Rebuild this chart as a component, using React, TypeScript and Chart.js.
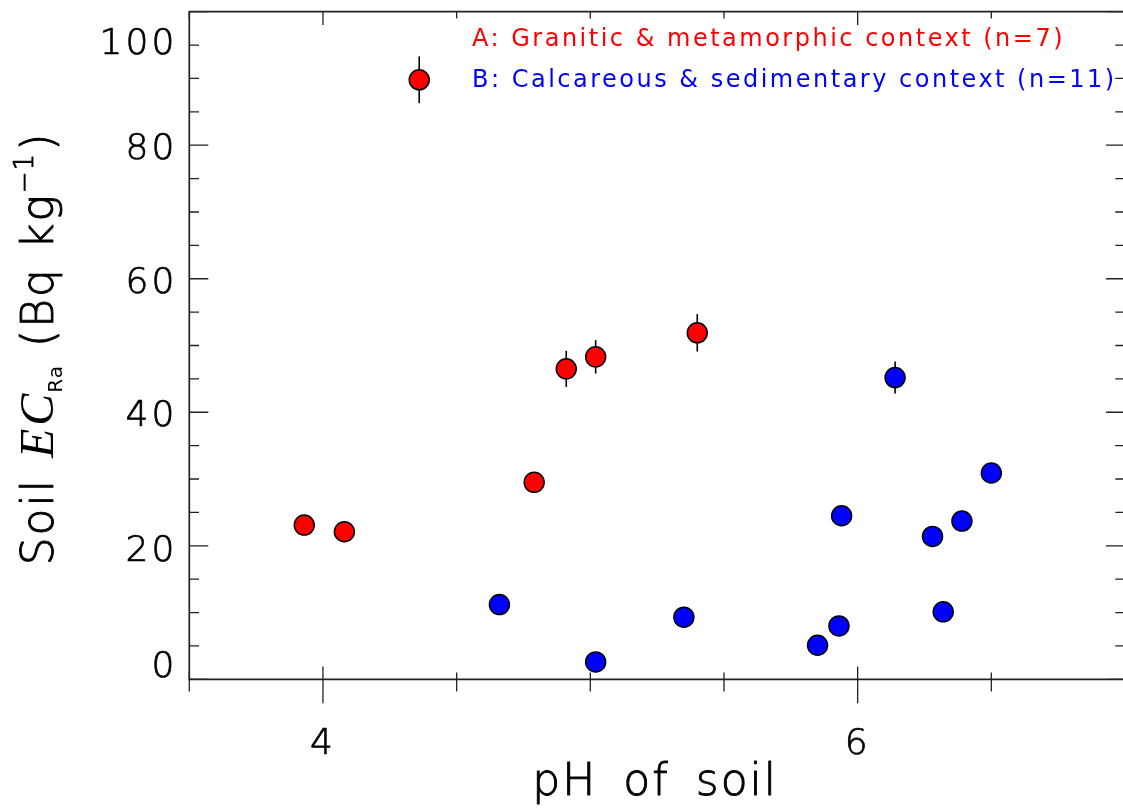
import React, { useEffect, useRef } from 'react';
import { Chart, registerables } from 'chart.js';
Chart.register(...registerables);

// ---- data ----
const phA = [3.93, 4.08, 4.36, 4.79, 4.91, 5.02, 5.40];
const ecA = [23.1, 22.1, 89.8, 29.5, 46.5, 48.3, 51.9];
const errA = [0, 0, 3.5, 0, 2.7, 2.5, 2.8];

const phB = [4.66, 5.02, 5.35, 5.85, 5.93, 5.94, 6.14, 6.28, 6.32, 6.39, 6.50];
const ecB = [11.2, 2.6, 9.3, 5.1, 8.0, 24.5, 45.2, 21.4, 10.1, 23.7, 30.9];
const errB = [0, 0, 0, 0, 0, 0, 2.4, 0, 0, 0, 0];

const legendA = 'A: Granitic & metamorphic context (n=7)';
const legendB = 'B: Calcareous & sedimentary context (n=11)';
const xTitle = 'pH of soil';

const xMin = 3.5;
const xMax = 7.0;
const yMin = 0;
const yMax = 100;
const xTickValues = [3.5, 4, 4.5, 5, 5.5, 6, 6.5, 7];
const xMajorTicks = [4, 6];
const xTickLabels = ['4', '6'];
const yTickValues = [0, 5, 10, 15, 20, 25, 30, 35, 40, 45, 50, 55, 60, 65, 70, 75, 80, 85, 90, 95, 100];
const yMajorTicks = [0, 20, 40, 60, 80, 100];
const yTickLabels = ['0', '20', '40', '60', '80', '100'];
const yTickLabelAt = [1.8, 19.1, 39.3, 59.2, 79.3, 95.1];

const SANS = '"DejaVu Sans", sans-serif';
const SERIF = '"Liberation Serif", "DejaVu Serif", serif';
const W = '200';

function draw(ctx: any, s: string, x: number, y: number, sw: number) {
  ctx.fillText(s, x, y);
  if (sw > 0) {
    ctx.lineWidth = sw;
    ctx.strokeStyle = ctx.fillStyle;
    ctx.lineJoin = 'round';
    ctx.strokeText(s, x, y);
  }
}

const decorPlugin = {
  id: 'decor',
  beforeDatasetsDraw(chart: any) {
    const ctx = chart.ctx;
    const xs = chart.scales.x;
    const ys = chart.scales.y;
    ctx.save();
    ctx.strokeStyle = '#000';
    ctx.lineWidth = 1.6;
    const bars = (px: number[], py: number[], pe: number[]) => {
      px.forEach((v, i) => {
        if (!pe[i]) return;
        const X = xs.getPixelForValue(v);
        ctx.beginPath();
        ctx.moveTo(X, ys.getPixelForValue(py[i] - pe[i]));
        ctx.lineTo(X, ys.getPixelForValue(py[i] + pe[i]));
        ctx.stroke();
      });
    };
    bars(phA, ecA, errA);
    bars(phB, ecB, errB);
    ctx.restore();
  },
  afterDraw(chart: any) {
    const ctx = chart.ctx;
    const xs = chart.scales.x;
    const ys = chart.scales.y;
    const { left, right, top, bottom } = chart.chartArea;
    ctx.save();
    // frame
    ctx.strokeStyle = '#222';
    ctx.lineWidth = 1.7;
    ctx.beginPath();
    ctx.moveTo(left, top);
    ctx.lineTo(right, top);
    ctx.lineTo(right, bottom);
    ctx.lineTo(left, bottom);
    ctx.closePath();
    ctx.stroke();
    // ticks
    ctx.lineWidth = 1.3;
    ctx.beginPath();
    xTickValues.forEach((v) => {
      const X = xs.getPixelForValue(v);
      const major = xMajorTicks.includes(v);
      ctx.moveTo(X, bottom - (major ? 12.7 : 6.7));
      ctx.lineTo(X, bottom + (major ? 24 : 12.3));
      ctx.moveTo(X, top);
      ctx.lineTo(X, top + (major ? 13.3 : 6.7));
    });
    yTickValues.forEach((v) => {
      const Y = ys.getPixelForValue(v);
      const major = yMajorTicks.includes(v);
      ctx.moveTo(left, Y);
      ctx.lineTo(left + (major ? 19 : 9.7), Y);
      ctx.moveTo(right, Y);
      ctx.lineTo(right - (major ? 19 : 9.7), Y);
    });
    ctx.stroke();

    // tick labels
    ctx.fillStyle = '#000';
    ctx.font = `${W} 36px ${SANS}`;
    ctx.letterSpacing = '3px';
    ctx.textAlign = 'right';
    ctx.textBaseline = 'middle';
    yTickLabels.forEach((s, i) => {
      draw(ctx, s, left - 12, ys.getPixelForValue(yTickLabelAt[i]), 0.7);
    });
    ctx.textAlign = 'center';
    ctx.textBaseline = 'alphabetic';
    xTickLabels.forEach((s, i) => {
      draw(ctx, s, xs.getPixelForValue(xMajorTicks[i]), bottom + 75, 0.7);
    });

    // x title
    ctx.font = `${W} 44px ${SANS}`;
    ctx.letterSpacing = '2px';
    ctx.wordSpacing = '10px';
    ctx.textAlign = 'center';
    draw(ctx, xTitle, (left + right) / 2 - 2, bottom + 116, 0.9);

    // y title (rotated, runs)
    const runs = [
      { t: 'Soil', f: `${W} 44px ${SANS}`, ls: 2, dy: 0, gap: 20, sw: 0.9 },
      { t: 'EC', f: `italic 48px ${SERIF}`, ls: 3, dy: 0, gap: -2, sw: 0 },
      { t: 'Ra', f: `20px ${SANS}`, ls: 1, dy: 9, gap: 18, sw: 0 },
      { t: '(Bq', f: `${W} 44px ${SANS}`, ls: 2, dy: 0, gap: 18, sw: 0.9 },
      { t: 'kg', f: `${W} 44px ${SANS}`, ls: 2, dy: 0, gap: 0, sw: 0.9 },
      { t: '\u22121', f: `${W} 26px ${SANS}`, ls: 1, dy: -20, gap: 2, sw: 0.9 },
      { t: ')', f: `${W} 44px ${SANS}`, ls: 2, dy: 0, gap: 0, sw: 0.9 },
    ];
    ctx.wordSpacing = '0px';
    let total = 0;
    const widths = runs.map((r) => {
      ctx.font = r.f;
      ctx.letterSpacing = r.ls + 'px';
      return ctx.measureText(r.t).width;
    });
    runs.forEach((r, i) => { total += widths[i] + (i < runs.length - 1 ? r.gap : 0); });
    ctx.translate(53, (top + bottom) / 2 + 3);
    ctx.rotate(-Math.PI / 2);
    ctx.textAlign = 'left';
    let cx = -total / 2;
    runs.forEach((r, i) => {
      ctx.font = r.f;
      ctx.letterSpacing = r.ls + 'px';
      draw(ctx, r.t, cx, r.dy, r.sw);
      cx += widths[i] + r.gap;
    });
    ctx.setTransform(1, 0, 0, 1, 0, 0);

    // legend text
    ctx.font = `24px ${SANS}`;
    ctx.letterSpacing = '2.5px';
    ctx.textAlign = 'left';
    ctx.fillStyle = '#ff0000';
    ctx.fillText(legendA, 472, 46);
    ctx.fillStyle = '#0000ff';
    ctx.fillText(legendB, 472, 87);
    ctx.restore();
  },
};

export default function App() {
  const ref = useRef<HTMLCanvasElement | null>(null);
  useEffect(() => {
    if (!ref.current) return;
    const chart = new Chart(ref.current, {
      type: 'scatter',
      data: {
        datasets: [
          {
            label: legendA,
            data: phA.map((x, i) => ({ x, y: ecA[i] })),
            backgroundColor: '#ff0000',
            borderColor: '#000',
            borderWidth: 1.5,
            pointRadius: 10,
            pointHoverRadius: 10,
          },
          {
            label: legendB,
            data: phB.map((x, i) => ({ x, y: ecB[i] })),
            backgroundColor: '#0000ff',
            borderColor: '#000',
            borderWidth: 1.5,
            pointRadius: 10,
            pointHoverRadius: 10,
          },
        ],
      },
      options: {
        animation: false,
        responsive: false,
        maintainAspectRatio: false,
        devicePixelRatio: 1,
        layout: { padding: { left: 189.3, right: 15, top: 11.7, bottom: 130.7 } },
        plugins: { legend: { display: false }, tooltip: { enabled: false } },
        scales: {
          x: { type: 'linear', min: xMin, max: xMax, display: false },
          y: { type: 'linear', min: yMin, max: yMax, display: false },
        },
      },
      plugins: [decorPlugin],
    });
    return () => chart.destroy();
  }, []);
  return (
    <div style={{ position: 'absolute', left: 0, top: 0, width: 1123, height: 810, overflow: 'hidden', background: '#fff' }}>
      <canvas ref={ref} width={1140} height={810} style={{ width: 1140, height: 810, display: 'block' }} />
    </div>
  );
}
